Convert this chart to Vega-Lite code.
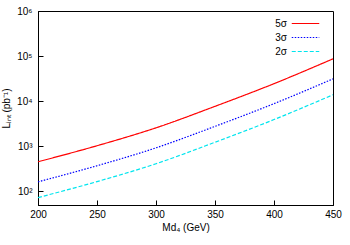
{
  "$schema": "https://vega.github.io/schema/vega-lite/v6.json",
  "width": 295,
  "height": 194,
  "autosize": {"type": "none"},
  "padding": {"left": 38, "top": 11, "right": 17, "bottom": 40},
  "config": {
    "view": {"stroke": "#000000", "strokeWidth": 1},
    "font": "Liberation Sans"
  },
  "data": {"values": [
    {"M": 200, "L": 454, "s": "5σ"},
    {"M": 250, "L": 1030, "s": "5σ"},
    {"M": 300, "L": 2570, "s": "5σ"},
    {"M": 350, "L": 7700, "s": "5σ"},
    {"M": 400, "L": 24500, "s": "5σ"},
    {"M": 450, "L": 87000, "s": "5σ"},
    {"M": 200, "L": 163, "s": "3σ"},
    {"M": 250, "L": 371, "s": "3σ"},
    {"M": 300, "L": 925, "s": "3σ"},
    {"M": 350, "L": 2770, "s": "3σ"},
    {"M": 400, "L": 8820, "s": "3σ"},
    {"M": 450, "L": 31300, "s": "3σ"},
    {"M": 200, "L": 73, "s": "2σ"},
    {"M": 250, "L": 165, "s": "2σ"},
    {"M": 300, "L": 411, "s": "2σ"},
    {"M": 350, "L": 1230, "s": "2σ"},
    {"M": 400, "L": 3920, "s": "2σ"},
    {"M": 450, "L": 13900, "s": "2σ"}
  ]},
  "mark": {"type": "line", "strokeWidth": 1.2, "interpolate": "monotone"},
  "encoding": {
    "x": {"field": "M", "type": "quantitative", "scale": {"domain": [200, 450], "nice": false, "zero": false},
      "axis": {"values": [200, 250, 300, 350, 400, 450], "tickSize": -5, "tickColor": "black", "tickWidth": 1, "tickOpacity": 1, "domainColor": "#000000", "grid": false,
        "labelPadding": 9, "labelFlush": false, "labelOverlap": false, "labelFontSize": 10, "labelColor": "#000000",
        "title": "Md₄ (GeV)", "titleFontSize": 10, "titleFontWeight": "normal", "titleColor": "#000000", "titlePadding": 3}},
    "y": {"field": "L", "type": "quantitative", "scale": {"type": "log", "domain": [50, 1000000], "nice": false},
      "axis": {"values": [100, 1000, 10000, 100000, 1000000],
        "tickSize": -5, "tickColor": "black", "tickWidth": 1, "tickOpacity": 1, "domainColor": "#000000", "grid": false,
        "labelExpr": "datum.value == 100 ? '10²' : datum.value == 1000 ? '10³' : datum.value == 10000 ? '10⁴' : datum.value == 100000 ? '10⁵' : datum.value == 1000000 ? '10⁶' : ''",
        "labelPadding": 11, "labelOverlap": false, "labelFontSize": 10, "labelColor": "#000000",
        "title": "Lᵢₙₜ (pb⁻¹)", "titleFontSize": 10, "titleFontWeight": "normal", "titleColor": "#000000", "titlePadding": 5}},
    "color": {"field": "s", "type": "nominal", "scale": {"domain": ["5σ", "3σ", "2σ"], "range": ["#ff0000", "#0000ff", "#00e5ee"]},
      "legend": {"title": null, "orient": "none", "legendX": 261, "legendY": 6, "symbolType": "M-2.5,0H2.5", "symbolSize": 121, "symbolStrokeWidth": 1.2, "labelAlign": "right", "labelOffset": -25, "labelFontSize": 10, "rowPadding": 2, "padding": 0, "labelColor": "#000000"}},
    "strokeDash": {"field": "s", "type": "nominal", "legend": null, "scale": {"domain": ["5σ", "3σ", "2σ"], "range": [[1, 0], [1.5, 1.5], [4, 2]]}}
  }
}
